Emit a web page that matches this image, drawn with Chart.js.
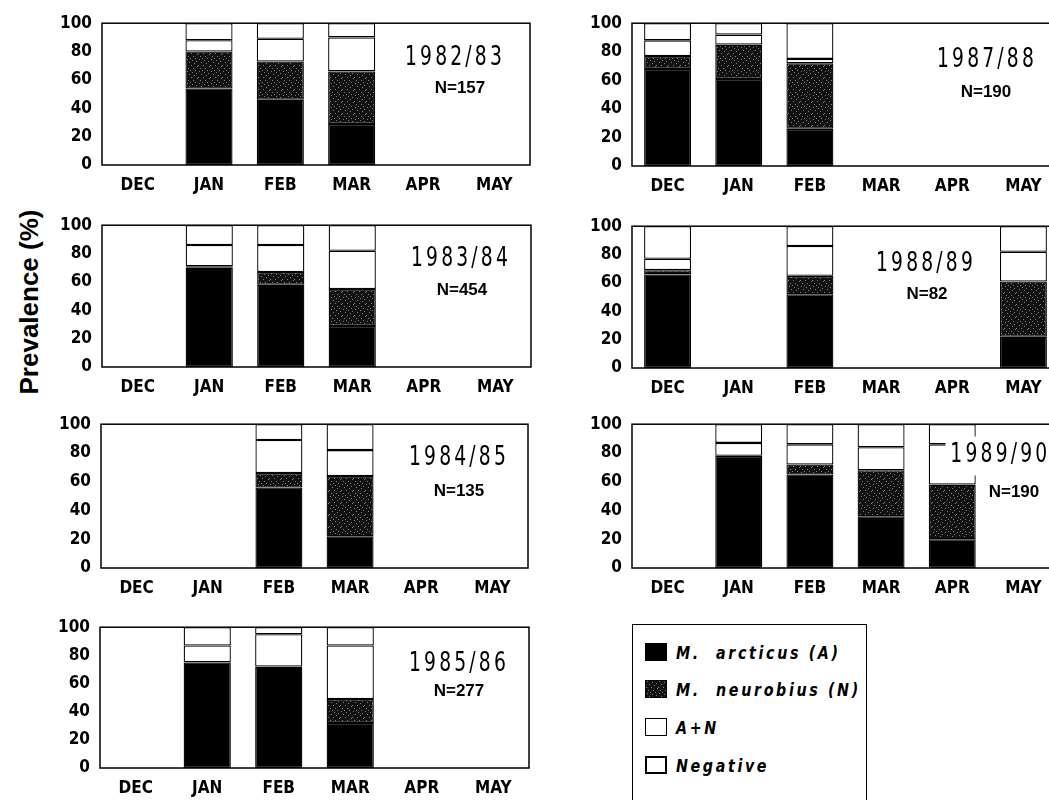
<!DOCTYPE html>
<html>
<head>
<meta charset="utf-8">
<script src="https://cdn.jsdelivr.net/npm/chart.js@4.4.1/dist/chart.umd.min.js"></script>
<style>
html, body { margin: 0; padding: 0; overflow: hidden; background: #fff; }
body { width: 1049px; height: 800px; position: relative; font-family: "Liberation Sans", Arial, sans-serif; }
canvas { position: absolute; }
.yr { position: absolute; transform: translate(-50%, -50%) scaleX(0.8); white-space: nowrap;
      font-family: "DejaVu Sans Condensed", sans-serif; font-size: 26px; letter-spacing: 4px; line-height: 1; }
.nn { position: absolute; transform: translate(-50%, -50%); white-space: nowrap; font-weight: bold; font-size: 17px; line-height: 1; }
.ytitle { position: absolute; left: 29px; top: 302px; transform: translate(-50%, -50%) rotate(-90deg);
          font-weight: bold; font-size: 26px; white-space: nowrap; }
.legend { position: absolute; left: 632px; top: 624px; width: 235px; height: 200px; border: 1.5px solid #000; box-sizing: border-box; }
.item { position: absolute; left: 12px; height: 20px; width: 260px; display: flex; align-items: center; white-space: nowrap; }
.sw { flex: none; width: 22px; height: 18px; box-sizing: border-box; border: 1.5px solid #000; margin-right: 9px; }
.lab { font-family: "DejaVu Sans Condensed", sans-serif; font-style: italic; font-weight: bold; font-size: 18px; letter-spacing: 3px;
       display: inline-block; white-space: nowrap; transform: scaleX(0.88); transform-origin: left center; }
</style>
</head>
<body>
<div class="ytitle">Prevalence (%)</div>
<div class="legend">
  <div class="item" style="top:17px"><div class="sw" style="background:#000"></div><span class="lab">M.&nbsp;&nbsp;arcticus (A)</span></div>
  <div class="item" style="top:54px"><div class="sw" id="swN"></div><span class="lab">M.&nbsp;&nbsp;neurobius (N)</span></div>
  <div class="item" style="top:92px"><div class="sw" style="background:#fff;border-width:1px"></div><span class="lab">A+N</span></div>
  <div class="item" style="top:130px"><div class="sw" style="background:#fff;border-width:2px"></div><span class="lab">Negative</span></div>
</div>
<script>
const months = ['DEC', 'JAN', 'FEB', 'MAR', 'APR', 'MAY'];
const seasons = ['1982/83', '1983/84', '1984/85', '1985/86', '1987/88', '1988/89', '1989/90'];
const sampleN = [157, 454, 135, 277, 190, 82, 190];

// % of fish per month, null = no sample
const arcticus = [
    [null, 54, 46, 29, null, null],
    [null, 70, 58, 29, null, null],
    [null, null, 56, 22, null, null],
    [null, 75, 72, 32, null, null],
    [68, 61, 26, null, null, null],
    [66, null, 52, null, null, 22],
    [null, 78, 65, 36, 20, null]
];
const neurobius = [
    [null, 26, 27, 37, null, null],
    [null, 1, 9, 26, null, null],
    [null, null, 10, 42, null, null],
    [null, 0, 0, 17, null, null],
    [9, 24, 46, null, null, null],
    [3, null, 13, null, null, 39],
    [null, 0, 7, 32, 38, null]
];
const mixed = [
    [null, 8, 16, 24, null, null],
    [null, 15, 19, 27, null, null],
    [null, null, 23, 18, null, null],
    [null, 12, 23, 38, null, null],
    [11, 7, 3, null, null, null],
    [8, null, 21, null, null, 21],
    [null, 9, 14, 16, 28, null]
];
const negative = [
    [null, 12, 11, 10, null, null],
    [null, 14, 14, 18, null, null],
    [null, null, 11, 18, null, null],
    [null, 13, 5, 13, null, null],
    [12, 8, 25, null, null, null],
    [23, null, 14, null, null, 18],
    [null, 13, 14, 16, 14, null]
];

// plot area of each panel: left, top, width, height
const panelBox = [
    [102, 23, 428, 142],
    [102, 225, 429, 142],
    [101, 424, 427, 144],
    [100, 627, 429, 141],
    [632, 23, 427, 143],
    [632, 226, 427, 142],
    [632, 424, 427, 144]
];
// label positions: year x, y, N x, y
const labelPos = [
    [455, 56, 460, 87],
    [461, 257, 462, 289],
    [459, 456, 459, 490],
    [459, 662, 459, 690],
    [987, 58, 986, 91],
    [926, 262, 927, 293],
    [998, 456, 1014, 491]
];

const AXIS_W = 60, PAD_TOP = 12, XAXIS_H = 32, PAD_RIGHT = 8;

// speckled screen tone for M. neurobius
function makeSpeckle() {
    const c = document.createElement('canvas');
    c.width = 12; c.height = 12;
    const g = c.getContext('2d');
    g.fillStyle = '#111';
    g.fillRect(0, 0, 12, 12);
    g.fillStyle = '#808080';
    [[1, 0], [6, 1], [10, 2], [3, 3], [8, 4], [0, 6], [5, 6], [11, 7], [2, 9], [7, 9], [9, 11], [4, 11]]
        .forEach(p => g.fillRect(p[0], p[1], 1, 1));
    return c;
}
const speckleTile = makeSpeckle();
document.getElementById('swN').style.background = `url(${speckleTile.toDataURL()})`;

const framePlugin = {
    id: 'frame',
    afterDatasetsDraw(chart) {
        const { ctx, chartArea: a } = chart;
        ctx.save();
        ctx.strokeStyle = '#000';
        ctx.lineWidth = 1.5;
        ctx.strokeRect(a.left, a.top, a.right - a.left, a.bottom - a.top);
        ctx.restore();
    }
};

const tickFont = { family: '"DejaVu Sans Condensed", sans-serif', size: 17, weight: 'bold' };

seasons.forEach((season, i) => {
    const [pl, pt, pw, ph] = panelBox[i];
    const cv = document.createElement('canvas');
    const w = AXIS_W + pw + PAD_RIGHT, h = PAD_TOP + ph + XAXIS_H;
    cv.width = w; cv.height = h;
    cv.style.left = (pl - AXIS_W) + 'px';
    cv.style.top = (pt - PAD_TOP) + 'px';
    document.body.appendChild(cv);
    const pattern = cv.getContext('2d').createPattern(speckleTile, 'repeat');

    new Chart(cv, {
        type: 'bar',
        data: {
            labels: months,
            datasets: [
                { label: 'M. arcticus (A)', data: arcticus[i], backgroundColor: '#000' },
                { label: 'M. neurobius (N)', data: neurobius[i], backgroundColor: pattern },
                { label: 'A+N', data: mixed[i], backgroundColor: '#fff' },
                { label: 'Negative', data: negative[i], backgroundColor: '#fff' }
            ]
        },
        options: {
            responsive: false,
            animation: false,
            devicePixelRatio: 1,
            layout: { padding: { top: PAD_TOP, right: PAD_RIGHT, left: 0, bottom: 0 } },
            datasets: {
                bar: { borderColor: '#000', borderWidth: 1.3, borderSkipped: false, barPercentage: 0.66, categoryPercentage: 1 }
            },
            plugins: { legend: { display: false }, tooltip: { enabled: false } },
            scales: {
                x: {
                    stacked: true,
                    grid: { display: false },
                    border: { display: false },
                    ticks: { color: '#000', font: tickFont, padding: 2, maxRotation: 0 },
                    afterFit(s) { s.height = XAXIS_H; }
                },
                y: {
                    stacked: true,
                    min: 0, max: 100,
                    grid: { display: false },
                    border: { display: false },
                    ticks: { stepSize: 20, color: '#000', font: tickFont, padding: 2 },
                    afterFit(s) { s.width = AXIS_W; }
                }
            }
        },
        plugins: [framePlugin]
    });

    const [yx, yy, nx, ny] = labelPos[i];
    const yr = document.createElement('div');
    yr.className = 'yr';
    yr.textContent = season;
    yr.style.left = yx + 'px';
    yr.style.top = yy + 'px';
    if (i === 6) { yr.style.background = '#fff'; yr.style.padding = '3px 0 10px 6px'; }
    document.body.appendChild(yr);

    const nn = document.createElement('div');
    nn.className = 'nn';
    nn.textContent = 'N=' + sampleN[i];
    nn.style.left = nx + 'px';
    nn.style.top = ny + 'px';
    document.body.appendChild(nn);
});
</script>
</body>
</html>
